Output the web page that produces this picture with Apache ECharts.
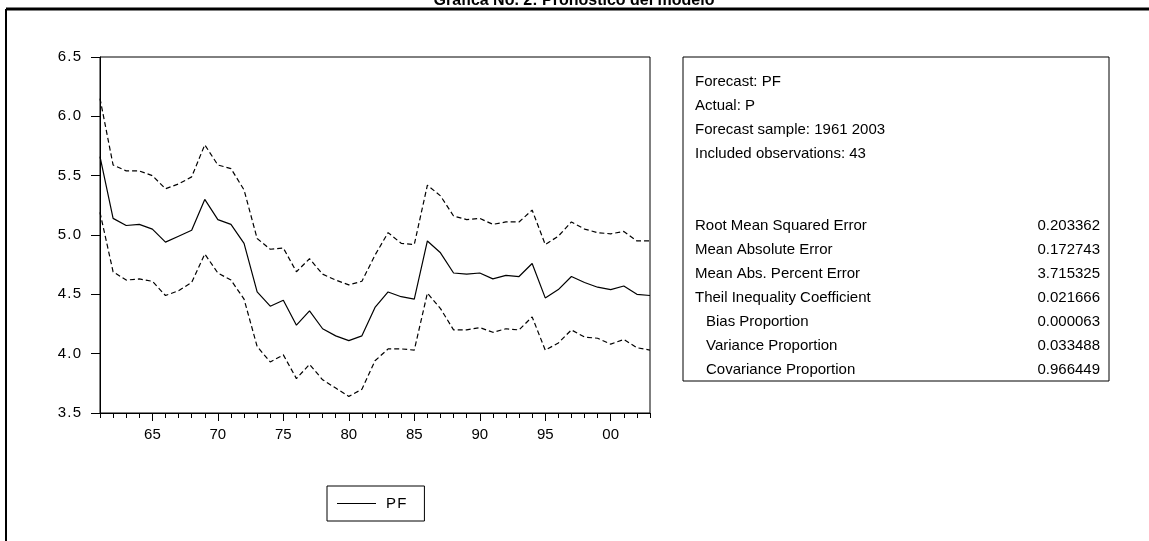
<!DOCTYPE html>
<html>
<head>
<meta charset="utf-8">
<script src="https://cdn.jsdelivr.net/npm/echarts@6/dist/echarts.min.js"></script>
<style>
  html, body { margin: 0; padding: 0; background: #fff; }
  #chartmain { width: 1149px; height: 541px; }
</style>
</head>
<body>
<div id="chartmain"></div>
<script>
// años del pronóstico (1961-2003)
var years = [1961,1962,1963,1964,1965,1966,1967,1968,1969,1970,
             1971,1972,1973,1974,1975,1976,1977,1978,1979,1980,
             1981,1982,1983,1984,1985,1986,1987,1988,1989,1990,
             1991,1992,1993,1994,1995,1996,1997,1998,1999,2000,
             2001,2002,2003];

// pronóstico PF
var pf = [5.66,5.14,5.08,5.09,5.05,4.94,4.99,5.04,5.30,5.13,
          5.09,4.93,4.52,4.40,4.45,4.24,4.36,4.21,4.15,4.11,
          4.15,4.39,4.52,4.48,4.46,4.95,4.85,4.68,4.67,4.68,
          4.63,4.66,4.65,4.76,4.47,4.54,4.65,4.60,4.56,4.54,
          4.57,4.50,4.49];

// bandas +/- 2 S.E.
var upper = [6.15,5.59,5.54,5.54,5.50,5.39,5.43,5.49,5.76,5.59,
             5.56,5.38,4.97,4.88,4.89,4.69,4.80,4.67,4.62,4.58,
             4.61,4.83,5.02,4.93,4.92,5.42,5.33,5.16,5.13,5.14,
             5.09,5.11,5.11,5.21,4.92,4.99,5.11,5.05,5.02,5.01,
             5.03,4.95,4.95];
var lower = [5.19,4.69,4.62,4.63,4.61,4.49,4.53,4.60,4.84,4.68,
             4.62,4.46,4.06,3.93,3.99,3.79,3.91,3.78,3.71,3.64,
             3.70,3.94,4.04,4.04,4.03,4.51,4.38,4.20,4.20,4.22,
             4.18,4.21,4.20,4.31,4.03,4.09,4.20,4.14,4.13,4.08,
             4.12,4.05,4.03];

// estadísticos del pronóstico
var headerLines = ['Forecast: PF', 'Actual: P', 'Forecast sample: 1961 2003', 'Included observations: 43'];
var statNames = ['Root Mean Squared Error', 'Mean Absolute Error', 'Mean Abs. Percent Error',
                 'Theil Inequality Coefficient', 'Bias Proportion', 'Variance Proportion',
                 'Covariance Proportion'];
var statIndent = [0, 0, 0, 0, 1, 1, 1];
var statValues = ['0.203362', '0.172743', '3.715325', '0.021666', '0.000063', '0.033488', '0.966449'];

var FONT = '"Liberation Sans", Arial, sans-serif';

// espaciado entre letras al estilo EViews
function spaced(s) { return String(s).split('').join('\u200a'); }

var myChart = echarts.init(document.getElementById('chartmain'));

// cuadro de estadísticos
var boxLeft = 683, boxTop = 57, boxRight = 1109, boxBottom = 381;
var rowY0 = 82, rowStep = 24;
var gfx = [
    { type: 'line', shape: { x1: 6, y1: 9, x2: 1149, y2: 9 }, style: { stroke: '#000', lineWidth: 3 } },
    { type: 'line', shape: { x1: 6, y1: 9, x2: 6, y2: 541 }, style: { stroke: '#000', lineWidth: 2 } },
    { type: 'text', x: 574, y: 9, style: { text: 'Gráfica No. 2: Pronóstico del modelo', font: 'bold 16px ' + FONT,
        fill: '#000', align: 'center', verticalAlign: 'bottom' } },
    { type: 'rect', shape: { x: boxLeft, y: boxTop, width: boxRight - boxLeft, height: boxBottom - boxTop },
        style: { fill: '#fff', stroke: '#000', lineWidth: 1 } }
];
headerLines.forEach(function (t, i) {
    gfx.push({ type: 'text', x: 695, y: rowY0 + i * rowStep,
        style: { text: t, font: '15px ' + FONT, fill: '#000', verticalAlign: 'middle' } });
});
statNames.forEach(function (t, i) {
    var y = rowY0 + (i + 6) * rowStep;
    gfx.push({ type: 'text', x: 695 + statIndent[i] * 11, y: y,
        style: { text: t, font: '15px ' + FONT, fill: '#000', verticalAlign: 'middle' } });
    gfx.push({ type: 'text', x: 1100, y: y,
        style: { text: statValues[i], font: '15px ' + FONT, fill: '#000', align: 'right', verticalAlign: 'middle' } });
});

var option = {
    animation: false,
    backgroundColor: '#fff',
    textStyle: { fontFamily: FONT, color: '#000' },
    grid: { left: 100, top: 57, width: 550, height: 356, show: true, borderColor: '#000', borderWidth: 1, backgroundColor: 'transparent' },
    legend: {
        data: ['PF'],
        left: 327, top: 486,
        padding: [10, 18, 10, 10],
        borderColor: '#000', borderWidth: 1, borderRadius: 0,
        icon: 'rect', itemWidth: 39, itemHeight: 1,
        itemStyle: { color: '#000' },
        textStyle: { fontSize: 15, color: '#000', fontFamily: FONT, padding: [0, 0, 0, 5] },
        formatter: function (n) { return spaced(n); }
    },
    xAxis: [{
        type: 'category',
        data: years,
        boundaryGap: false,
        axisLine: { lineStyle: { color: '#000', width: 1 } },
        axisTick: { interval: 0, length: 5, lineStyle: { color: '#000' } },
        axisLabel: {
            interval: function (idx, val) { return years[idx] % 5 === 0; },
            formatter: function (val) { var s = String(val % 100); return s.length < 2 ? '0' + s : s; },
            fontSize: 15, color: '#000', margin: 14
        },
        splitLine: { show: false }
    }, {
        type: 'category',
        data: years,
        position: 'bottom',
        boundaryGap: false,
        axisLine: { show: false },
        axisTick: { interval: function (idx) { return years[idx] % 5 === 0; }, length: 8, lineStyle: { color: '#000' } },
        axisLabel: { show: false },
        splitLine: { show: false }
    }],
    yAxis: {
        type: 'value',
        min: 3.5, max: 6.5, interval: 0.5,
        axisLine: { show: true, lineStyle: { color: '#000', width: 1 } },
        axisTick: { show: true, length: 9, lineStyle: { color: '#000' } },
        axisLabel: { formatter: function (v) { return spaced(v.toFixed(1)); }, fontSize: 15, color: '#000', margin: 19 },
        splitLine: { show: false }
    },
    series: [{
        name: 'PF', type: 'line', data: pf, xAxisIndex: 0,
        symbol: 'none', lineStyle: { color: '#000', width: 1.2 }, itemStyle: { color: '#000' }
    }, {
        name: 'PF + 2 S.E.', type: 'line', data: upper, xAxisIndex: 0,
        symbol: 'none', lineStyle: { color: '#000', width: 1.2, type: [5, 3] }
    }, {
        name: 'PF - 2 S.E.', type: 'line', data: lower, xAxisIndex: 0,
        symbol: 'none', lineStyle: { color: '#000', width: 1.2, type: [5, 3] }
    }],
    graphic: gfx
};

myChart.setOption(option);
</script>
</body>
</html>
